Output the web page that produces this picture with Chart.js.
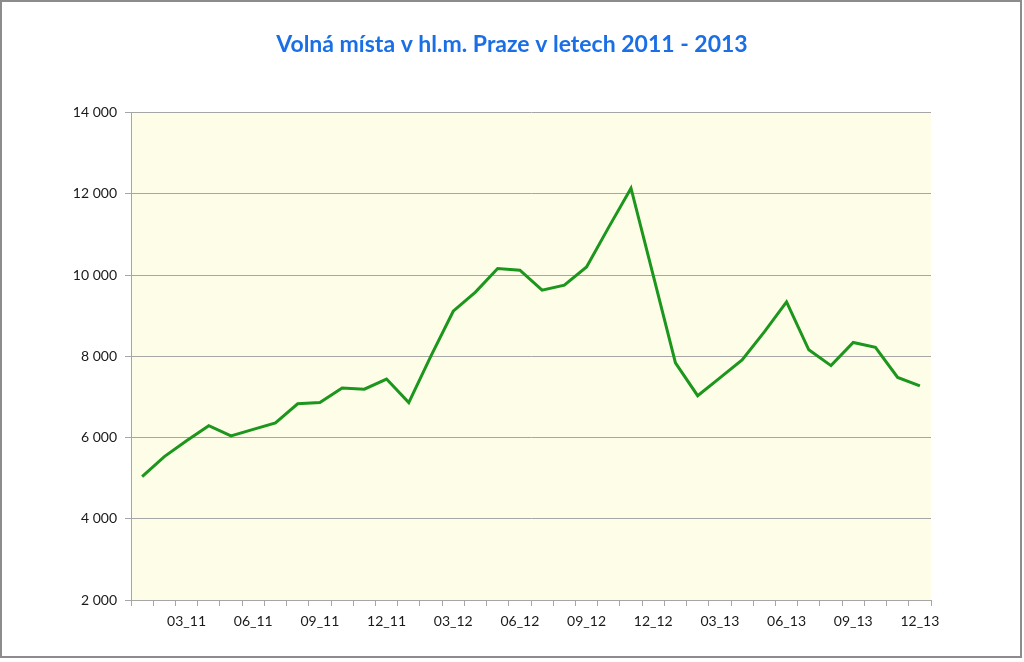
<!DOCTYPE html>
<html>
<head>
<meta charset="utf-8">
<script src="https://cdn.jsdelivr.net/npm/chart.js@4/dist/chart.umd.min.js"></script>
<style>
  html, body { margin: 0; padding: 0; background: #fff; }
  #wrap { position: relative; width: 1024px; height: 662px; }
  #chart { position: absolute; left: 0; top: 0; }
  #frame { position: absolute; left: 0; top: 0; width: 1018px; height: 654px;
           border: 2px solid #8c8c8c; pointer-events: none; }
</style>
</head>
<body>
<div id="wrap">
  <canvas id="chart" width="1024" height="662"></canvas>
  <div id="frame"></div>
</div>
<script>
// mesice 01_11 .. 12_13
const months = [
  '01_11', '02_11', '03_11', '04_11', '05_11', '06_11', '07_11', '08_11', '09_11', '10_11', '11_11', '12_11',
  '01_12', '02_12', '03_12', '04_12', '05_12', '06_12', '07_12', '08_12', '09_12', '10_12', '11_12', '12_12',
  '01_13', '02_13', '03_13', '04_13', '05_13', '06_13', '07_13', '08_13', '09_13', '10_13', '11_13', '12_13',
];
const volnaMista = [
  5040, 5530, 5920, 6290, 6040, 6200, 6360, 6830, 6860, 7220, 7190, 7440,
  6860, 8010, 9110, 9580, 10160, 10120, 9630, 9750, 10200, 11180, 12140, 9990,
  7840, 7030, 7470, 7910, 8600, 9340, 8160, 7770, 8340, 8220, 7480, 7270,
];
const shownLabels = ['03_11', '06_11', '09_11', '12_11', '03_12', '06_12', '09_12', '12_12', '03_13', '06_13', '09_13', '12_13'];
const yTicks = [2000, 4000, 6000, 8000, 10000, 12000, 14000];

const fmt = (v) => String(v).replace(/\B(?=(\d{3})+(?!\d))/g, ' ');

const plotBg = {
  id: 'plotBg',
  beforeDraw: (chart) => {
    const a = chart.chartArea;
    const ctx = chart.ctx;
    ctx.save();
    ctx.fillStyle = '#fefee8';
    ctx.fillRect(a.left, a.top, a.right - a.left, a.bottom - a.top);
    ctx.restore();
  },
};

new Chart(document.getElementById('chart'), {
  type: 'line',
  data: {
    labels: months,
    datasets: [{
      label: 'Volná místa',
      data: volnaMista,
      borderColor: '#1c961c',
      borderWidth: 3,
      pointRadius: 0,
      tension: 0,
      fill: false,
    }],
  },
  options: {
    responsive: false,
    animation: false,
    layout: { padding: 0 },
    plugins: {
      legend: { display: false },
      tooltip: { enabled: false },
      title: {
        display: true,
        text: 'Volná místa v hl.m. Praze v letech 2011 - 2013',
        color: '#1a6fe6',
        font: { family: 'Lato', size: 23, weight: 'bold' },
        padding: { top: 31, bottom: 54 },
      },
    },
    scales: {
      x: {
        type: 'category',
        offset: true,
        grid: {
          offset: true,
          drawOnChartArea: false,
          drawTicks: true,
          tickLength: 6,
          color: '#a6a6a6',
        },
        border: { display: true, color: '#a6a6a6', width: 1 },
        ticks: {
          autoSkip: false,
          maxRotation: 0,
          padding: 7,
          color: '#1a1a1a',
          font: { family: 'Lato', size: 14 },
          callback: function (v, i) {
            const l = months[i];
            return shownLabels.includes(l) ? l : '';
          },
        },
        afterFit: (s) => { s.height = 62; },
      },
      y: {
        min: 2000,
        max: 14000,
        afterBuildTicks: (s) => { s.ticks = yTicks.map((v) => ({ value: v })); },
        grid: {
          color: '#a6a6a6',
          drawTicks: true,
          tickLength: 6,
        },
        border: { display: true, color: '#a6a6a6', width: 1 },
        ticks: {
          padding: 8,
          color: '#1a1a1a',
          font: { family: 'Lato', size: 14 },
          callback: (v) => fmt(v),
        },
        afterFit: (s) => { s.width = 131; },
      },
      // prazdna osa vpravo, jen kvuli mistu za grafem
      yRight: {
        position: 'right',
        grid: { display: false },
        border: { display: false },
        ticks: { display: false },
        afterFit: (s) => { s.width = 93; },
      },
    },
  },
  plugins: [plotBg],
});
</script>
</body>
</html>
